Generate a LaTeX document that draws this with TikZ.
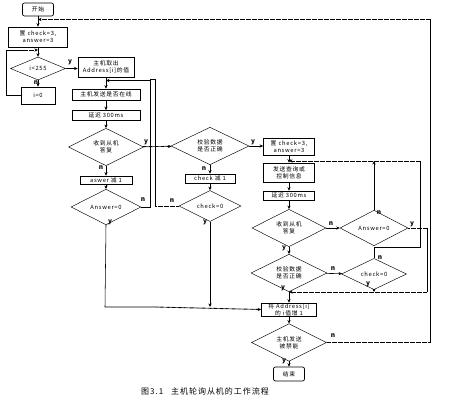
\documentclass[tikz,border=0pt]{standalone}
\usepackage{fontspec}
\setmainfont{Noto Sans CJK SC}[LetterSpace=12]
\usetikzlibrary{shapes.geometric,arrows.meta}
\begin{document}
\begin{tikzpicture}[x=1pt,y=-1pt,
  every node/.style={font=\fontsize{5.8}{6.8}\selectfont, inner sep=0pt, align=center},
  box/.style={draw, line width=0.7pt, rectangle},
  rbox/.style={draw, line width=0.7pt, rounded corners=2pt},
  dia/.style={draw, diamond, line width=0.45pt},
  line/.style={line width=0.55pt},
  arr/.style={line width=0.55pt, -{Stealth[length=3.5pt,width=3.2pt]}},
  dotline/.style={dash pattern=on 0.8pt off 0.4pt, line width=0.9pt},
  darr/.style={dotline, -{Stealth[length=3.5pt,width=3.2pt]}},
  lab/.style={font=\fontsize{6.5}{7}\selectfont\bfseries}
]
\useasboundingbox (0,0) rectangle (450,404);
% nodes
\node[rbox, minimum width=31pt, minimum height=13pt] (start) at (38,9.5) {开始};
\node[box, minimum width=59pt, minimum height=20pt] (set1) at (38,37) {置 check=3,\\ answer=3};
\node[dia, minimum width=55pt, minimum height=23pt] (d1) at (38,68.5) {i<255};
\node[box, minimum width=34pt, minimum height=17pt] (i0) at (38,95.5) {i=0};
\node[box, minimum width=56pt, minimum height=20pt] (fetch) at (106,67) {主机取出\\Address[i]的值};
\node[box, minimum width=68pt, minimum height=11pt] (online) at (106,94.5) {主机发送是否在线};
\node[box, minimum width=68pt, minimum height=10pt] (delay1) at (106,115.5) {延迟 300ms};
\node[dia, minimum width=75pt, minimum height=30pt] (recv1) at (106,147) {收到从机\\答复};
\node[box, minimum width=52pt, minimum height=8pt] (dec1) at (106,180) {aswer 减 1};
\node[dia, minimum width=70pt, minimum height=22pt] (ans1) at (106,207) {Answer=0};
\node[dia, minimum width=78pt, minimum height=32pt] (chk) at (210,146) {校验数据\\是否正确};
\node[box, minimum width=50pt, minimum height=9pt] (cdec) at (210,178.5) {check 减 1};
\node[dia, minimum width=62pt, minimum height=23pt] (c0) at (210,206) {check=0};
\node[box, minimum width=51pt, minimum height=17pt] (set2) at (289,146.5) {置 check=3,\\answer=3};
\node[box, minimum width=51pt, minimum height=19pt] (send) at (289,172.5) {发送查询或\\控制信息};
\node[box, minimum width=51pt, minimum height=9pt] (delay2) at (289,195.5) {延迟 300ms};
\node[dia, minimum width=74pt, minimum height=31pt] (recv2) at (289,228) {收到从机\\答复};
\node[dia, minimum width=68pt, minimum height=22pt] (ans2) at (374,228) {Answer=0};
\node[dia, minimum width=76pt, minimum height=27pt] (chk2) at (289,273) {校验数据\\是否正确};
\node[dia, minimum width=65pt, minimum height=22pt] (c02) at (374,274) {check=0};
\node[box, minimum width=55pt, minimum height=13pt] (addr) at (289,309.5) {将 Address[i]\\的 i值增 1};
\node[dia, minimum width=75pt, minimum height=31pt] (dis) at (289,342.5) {主机发送\\被禁能};
\node[rbox, minimum width=31pt, minimum height=14pt] (end) at (289,374) {结束};
\node[font=\fontsize{8}{9}\selectfont] (cap) at (205,391) {图3.1\quad 主机轮询从机的工作流程};
% junction coordinates
\coordinate (j0) at (38,19.5);
\coordinate (j1) at (38,50);
\coordinate (j2) at (106,80.5);
\coordinate (j3) at (210,307);
\coordinate (j4) at (289,161);
\coordinate (j5) at (289,292);
\coordinate (j6) at (374,161);
\coordinate (j7) at (374,292);
% main left column
\draw[arr] (start) -- (set1);
\draw[arr] (set1) -- (d1);
\draw[arr] (d1) -- (fetch.west |- d1);
\draw[arr] (d1) -- (i0);
\draw[line] (i0.west) -- (6,95.5) -- (6,50) -- (25,50);
\draw[darr] (25,50) -- (j1);
\draw[arr] (fetch) -- (online);
\draw[arr] (online) -- (delay1);
\draw[arr] (delay1) -- (recv1);
\draw[darr] (recv1) -- (chk);
\draw[arr] (recv1) -- (dec1);
\draw[arr] (dec1) -- (ans1);
\draw[line] (ans1.east) -- (150,207) -- (150,80.5) -- (112,80.5);
\draw[darr] (112,80.5) -- (j2);
\draw[dotline] (c0.west) -- (155,206);
\draw[line] (155,206) -- (155,79.5) -- (150,79.5);
\draw[line] (ans1.south) -- (105,307) -- (155,307);
\draw[darr] (155,307) -- (addr.west);
% middle column
\draw[arr] (chk) -- (set2.west |- chk);
\draw[arr] (chk) -- (cdec);
\draw[arr] (cdec) -- (c0);
\draw[arr] (c0) -- (j3);
% right column
\draw[arr] (set2) -- (send);
\draw[arr] (send) -- (delay2);
\draw[arr] (delay2) -- (recv2);
\draw[arr] (recv2) -- (ans2);
\draw[arr] (recv2) -- (chk2);
\draw[arr] (chk2) -- (c02);
\draw[arr] (ans2) -- (j6);
\draw[line] (c02.north) -- (374,247) -- (420,247) -- (420,161);
\draw[darr] (420,161) -- (j4);
\draw[dotline] (ans2.east) -- (427,228);
\draw[line] (427,228) -- (427,292);
\draw[darr] (427,292) -- (j5);
\draw[arr] (c02) -- (j7);
\draw[arr] (chk2) -- (addr);
\draw[arr] (addr) -- (dis);
\draw[arr] (dis) -- (end);
\draw[dotline] (dis.east) -- (430,342.5);
\draw[line] (430,342.5) -- (430,19.5);
\draw[darr] (430,19.5) -- (j0);
% labels
\node[lab] (l1) at (70,62) {y};
\node[lab] (l2) at (36,83) {n};
\node[lab] (l3) at (146,142) {y};
\node[lab] (l4) at (101,168) {n};
\node[lab] (l5) at (143,200) {n};
\node[lab] (l6) at (110,222) {y};
\node[lab] (l7) at (253,142) {y};
\node[lab] (l8) at (204,169) {n};
\node[lab] (l9) at (172,201) {n};
\node[lab] (l10) at (205,222) {y};
\node[lab] (l11) at (284,248) {y};
\node[lab] (l12) at (331,224) {n};
\node[lab] (l13) at (379,213) {n};
\node[lab] (l14) at (412,224) {y};
\node[lab] (l15) at (333,269) {n};
\node[lab] (l16) at (380,258) {n};
\node[lab] (l17) at (368,284) {y};
\node[lab] (l18) at (283,288) {y};
\node[lab] (l19) at (333,336) {n};
\node[lab] (l20) at (284,361) {y};
\end{tikzpicture}
\end{document}
